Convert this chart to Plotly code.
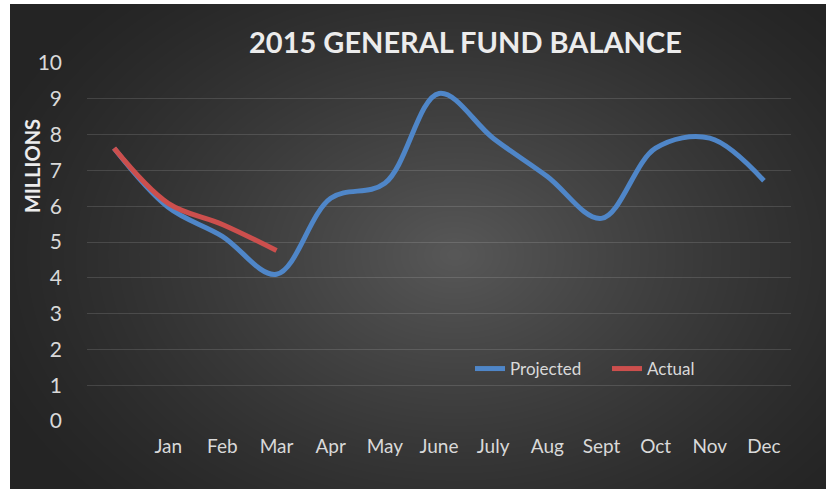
import base64, struct, zlib
import numpy as np
import plotly.graph_objects as go

# ---- data ----
labels = ["", "Jan", "Feb", "Mar", "Apr", "May", "June", "July", "Aug", "Sept", "Oct", "Nov", "Dec"]
projected = [7.62, 5.97, 5.16, 4.1, 6.22, 6.64, 9.15, 7.9, 6.83, 5.66, 7.62, 7.9, 6.71]
actual = [7.62, 6.08, 5.49, 4.76]
y_ticks = list(range(0, 11))

W, H = 826, 489


def px_x(p):
    return p / W


def px_y(p):
    return 1 - p / H


# ---- radial gradient background (with the white left/top border) as PNG ----
def gradient_png(w, h):
    yy, xx = np.mgrid[0:h, 0:w].astype(float)
    cx, cy = w * 0.55, h * 0.52
    d = np.sqrt(((xx - cx) / (w * 0.62)) ** 2 + ((yy - cy) / (h * 0.75)) ** 2)
    d = np.clip(d, 0, 1)
    v = 36 + (88 - 36) * (1 - d) ** 1.3
    v[:, :10] = 255
    v[:4, :] = 255
    arr = np.clip(v, 0, 255).astype(np.uint8)
    rgb = np.stack([arr, arr, arr], axis=-1)
    raw = b"".join(b"\x00" + rgb[i].tobytes() for i in range(h))

    def chunk(t, data):
        c = struct.pack(">I", len(data)) + t + data
        return c + struct.pack(">I", zlib.crc32(t + data) & 0xFFFFFFFF)

    png = b"\x89PNG\r\n\x1a\n"
    png += chunk(b"IHDR", struct.pack(">IIBBBBB", w, h, 8, 2, 0, 0, 0))
    png += chunk(b"IDAT", zlib.compress(raw, 9))
    png += chunk(b"IEND", b"")
    return "data:image/png;base64," + base64.b64encode(png).decode()


bg = gradient_png(W, H)

xs = list(range(len(labels)))

fig = go.Figure()
fig.add_trace(go.Scatter(
    x=xs, y=projected, name="Projected", mode="lines",
    line=dict(color="#4f86c8", width=5, shape="spline", smoothing=1.0),
))
fig.add_trace(go.Scatter(
    x=xs[:len(actual)], y=actual, name="Actual", mode="lines",
    line=dict(color="#cc4f4d", width=5, shape="spline", smoothing=1.0),
))

font_family = "Lato, 'Open Sans', sans-serif"
tick_color = "#d9d9d9"

fig.update_layout(
    width=W, height=H,
    margin=dict(l=0, r=0, t=0, b=0, autoexpand=False),
    paper_bgcolor="#262626",
    plot_bgcolor="rgba(0,0,0,0)",
    font=dict(family=font_family, color=tick_color),
    images=[dict(
        source=bg, xref="paper", yref="paper",
        x=0, y=1, sizex=1, sizey=1,
        xanchor="left", yanchor="top", sizing="stretch", layer="below",
    )],
    xaxis=dict(
        domain=[px_x(87), px_x(791)],
        range=[-0.5, len(labels) - 0.5],
        tickmode="array", tickvals=xs, ticktext=labels,
        showgrid=False, zeroline=False, showline=False, ticks="",
        tickfont=dict(size=19, color=tick_color),
        ticklabelstandoff=12,
        automargin=False,
        fixedrange=True,
    ),
    yaxis=dict(
        domain=[px_y(421), px_y(63)],
        range=[0, 10],
        tickmode="array", tickvals=y_ticks,
        showgrid=True, gridcolor="rgba(255,255,255,0.13)", gridwidth=1,
        zeroline=False, showline=False, ticks="",
        tickfont=dict(size=21, color=tick_color),
        ticklabelstandoff=24,
        automargin=False,
        fixedrange=True,
    ),
    showlegend=True,
    legend=dict(
        orientation="h", x=px_x(470), y=px_y(369), xanchor="left", yanchor="middle",
        bgcolor="rgba(0,0,0,0)", font=dict(size=17, color=tick_color),
        itemwidth=30, entrywidth=92, entrywidthmode="pixels",
    ),
    annotations=[
        dict(text="<b>2015 GENERAL FUND BALANCE</b>", xref="paper", yref="paper",
             x=px_x(465), y=px_y(42), xanchor="center", yanchor="middle",
             showarrow=False, font=dict(size=29, color="#ececec", family=font_family)),
        dict(text="<b>MILLIONS</b>", xref="paper", yref="paper",
             x=px_x(32), y=px_y(166), xanchor="center", yanchor="middle",
             textangle=-90, showarrow=False,
             font=dict(size=20, color="#ececec", family=font_family)),
    ],
)

fig.write_html(
    "out.html",
    config={"displayModeBar": False},
    post_script=(
        "document.documentElement.style.background='#262626';"
        "document.body.style.background='#262626';"
        "document.body.style.margin='0';document.body.style.overflow='hidden';"
    ),
)
